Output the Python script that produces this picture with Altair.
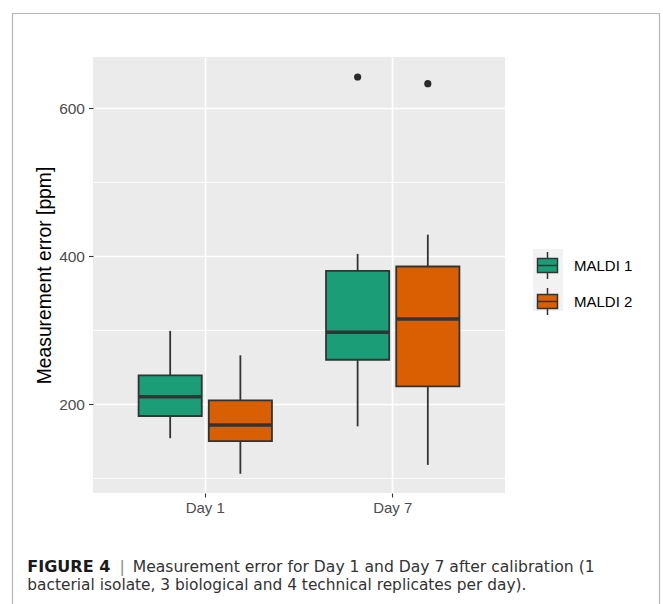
import altair as alt
import pandas as pd

# Box-plot summaries per day and instrument
days = ["Day 1", "Day 1", "Day 7", "Day 7"]
instruments = ["MALDI 1", "MALDI 2", "MALDI 1", "MALDI 2"]
whisker_low = [154, 106, 170, 118]
q1 = [184, 150, 260, 224]
median = [210, 172, 297, 315]
q3 = [239, 205, 380, 386]
whisker_high = [299, 266, 403, 429]

# Outlying points
outlier_days = ["Day 7", "Day 7"]
outlier_instruments = ["MALDI 1", "MALDI 2"]
outlier_values = [642, 633]

instrument_order = ["MALDI 1", "MALDI 2"]
instrument_colors = ["#1B9E77", "#D95F02"]

y_title = "Measurement error [ppm]"
caption_label = "FIGURE 4"
caption_line1 = "Measurement error for Day 1 and Day 7 after calibration (1"
caption_line2 = "bacterial isolate, 3 biological and 4 technical replicates per day)."

stats = pd.DataFrame({
    "day": days,
    "instrument": instruments,
    "low": whisker_low,
    "q1": q1,
    "median": median,
    "q3": q3,
    "high": whisker_high,
})
outliers = pd.DataFrame({
    "day": outlier_days,
    "instrument": outlier_instruments,
    "value": outlier_values,
})

W, H = 412, 436
EDGE = "#333333"
LINE_W = 1.8

x_enc = alt.X(
    "day:N",
    scale=alt.Scale(paddingInner=0.251, paddingOuter=0.2245),
    axis=alt.Axis(
        title=None, labelAngle=0, domain=False, grid=True,
        gridColor="white", gridWidth=1.6,
        tickColor=EDGE, tickSize=4, tickWidth=1.1,
        labelColor="#4D4D4D", labelFontSize=15, labelPadding=3,
        labelFont="Liberation Sans",
    ),
)
# each instrument gets a sub-band; the box fills 90% of it
xo_enc = alt.XOffset(
    "instrument:N",
    scale=alt.Scale(domain=instrument_order, paddingInner=0.1, paddingOuter=0.05),
)
major = "datum.value % 200 === 0"
y_scale = alt.Scale(domain=[80, 669], nice=False, zero=False)
y_axis = alt.Axis(
    values=[100, 200, 300, 400, 500, 600],
    labelExpr=f"{major} ? datum.label : ''",
    domain=False,
    gridColor="white",
    gridWidth={"condition": {"test": major, "value": 1.6}, "value": 0.8},
    tickOpacity={"condition": {"test": major, "value": 1}, "value": 0},
    tickColor=EDGE, tickSize=4.5, tickWidth=1.1,
    labelColor="#4D4D4D", labelFontSize=15.5, labelPadding=4,
    labelFont="Liberation Sans",
    title=y_title, titleFont="Liberation Sans", titleFontSize=19.3,
    titleFontWeight="normal", titleColor="black",
    titleAngle=270, titleAlign="center", titleBaseline="middle",
    titleX=-49, titleY=H / 2,
)

base = alt.Chart(stats)

whiskers = base.mark_rule(color=EDGE, strokeWidth=LINE_W).encode(
    x=x_enc, xOffset=xo_enc,
    y=alt.Y("low:Q", scale=y_scale, axis=y_axis),
    y2="high:Q",
)

legend_path = ("M0,-1L0,-0.52M-0.74,-0.52L0.74,-0.52L0.74,0.52L-0.74,0.52Z"
               "M-0.74,0L0.74,0M0,0.52L0,1")

boxes = base.mark_bar(stroke=EDGE, strokeWidth=LINE_W, opacity=1).encode(
    x=x_enc, xOffset=xo_enc,
    y=alt.Y("q1:Q", scale=y_scale),
    y2="q3:Q",
    color=alt.Color(
        "instrument:N",
        scale=alt.Scale(domain=instrument_order, range=instrument_colors),
        legend=alt.Legend(
            title=None, orient="none", legendX=440, legendY=194,
            symbolType=legend_path, symbolSize=729,
            symbolStrokeColor=EDGE, symbolStrokeWidth=1.5,
            symbolOpacity=1, labelOffset=12, rowPadding=3, padding=0,
            labelFontSize=15, labelColor="black", labelFont="Liberation Sans",
        ),
    ),
)

medians = base.mark_tick(
    color=EDGE, thickness=3.5, orient="horizontal", opacity=1
).encode(
    x=x_enc, xOffset=xo_enc,
    y=alt.Y("median:Q", scale=y_scale),
)

points = alt.Chart(outliers).mark_circle(size=52, color="#2B2B2B", opacity=1).encode(
    x=x_enc, xOffset=xo_enc,
    y=alt.Y("value:Q", scale=y_scale),
)

one = alt.Data(values=[{}])

# grey backdrop behind the legend keys
key_bg = alt.Chart(one).mark_rect(color="#F2F2F2").encode(
    x=alt.value(440), x2=alt.value(470), y=alt.value(192), y2=alt.value(254)
)

# thin frame around the figure
frame = alt.Chart(one).mark_rect(
    filled=False, stroke="#B5B5B5", strokeWidth=1.2
).encode(
    x=alt.value(-80.5), x2=alt.value(566.5), y=alt.value(-43.5), y2=alt.value(600)
)

# two-line caption under the figure
cap_font = "DejaVu Sans"
cap_a = alt.Chart(one).mark_text(
    align="left", baseline="alphabetic", font=cap_font, fontSize=16,
    fontWeight="bold", color="#1A1A1A"
).encode(x=alt.value(-65.7), y=alt.value(515), text=alt.value(caption_label))
cap_bar = alt.Chart(one).mark_text(
    align="left", baseline="alphabetic", font=cap_font, fontSize=16, color="#8C8C8C"
).encode(x=alt.value(26.5), y=alt.value(515), text=alt.value("|"))
cap_b = alt.Chart(one).mark_text(
    align="left", baseline="alphabetic", font=cap_font, fontSize=15.6, color="#333333"
).encode(x=alt.value(39.7), y=alt.value(515), text=alt.value(caption_line1))
cap_c = alt.Chart(one).mark_text(
    align="left", baseline="alphabetic", font=cap_font, fontSize=15.4, color="#333333"
).encode(x=alt.value(-65.7), y=alt.value(533), text=alt.value(caption_line2))

chart = alt.layer(
    key_bg, frame, whiskers, boxes, medians, points, cap_a, cap_bar, cap_b, cap_c
).properties(
    width=W, height=H,
    autosize=alt.AutoSizeParams(type="none"),
    padding={"left": 93, "top": 57, "right": 158, "bottom": 111},
    background="white",
).configure_view(
    fill="#EBEBEB", stroke=None
)

chart.save("out.html", embed_options={"renderer": "svg", "actions": False})
